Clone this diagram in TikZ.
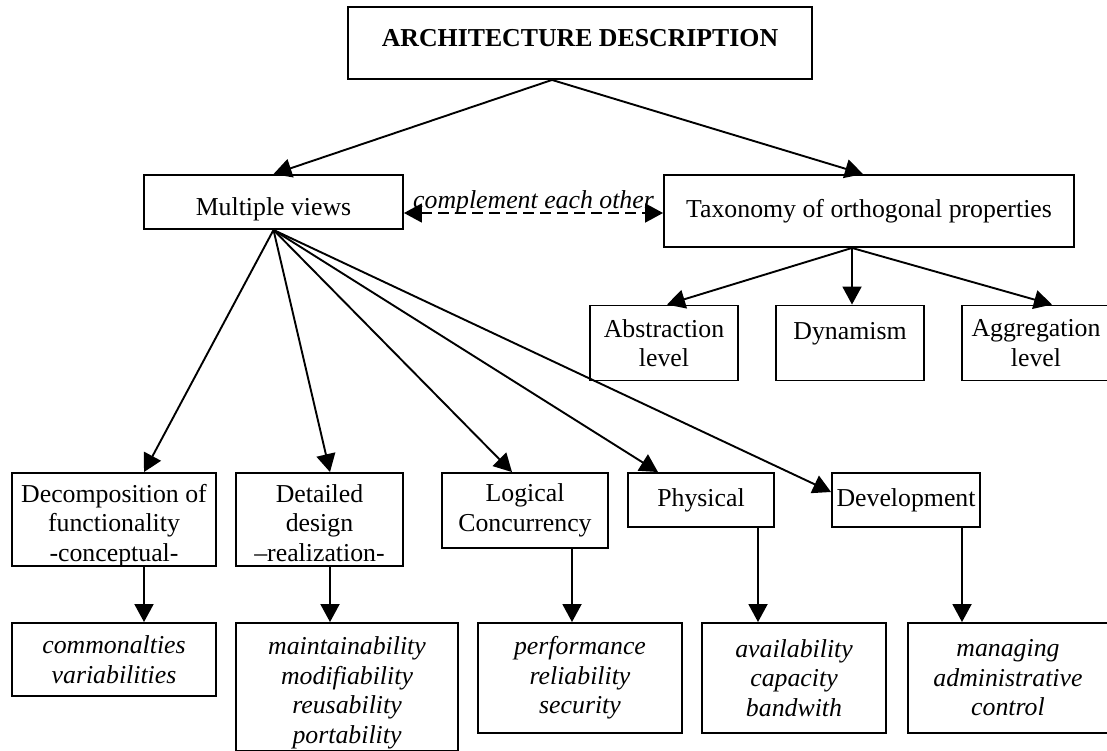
\documentclass[tikz,border=0pt]{standalone}
\usepackage{fontspec}
\setmainfont{Liberation Serif}
\usetikzlibrary{arrows.meta}
\begin{document}
\begin{tikzpicture}[x=1pt, y=-1pt,
    box/.style={draw, line width=1.9pt, align=center, inner sep=0pt, font=\fontsize{25.8}{29.5}\selectfont},
    qual/.style={box, font=\fontsize{25.8}{29.5}\selectfont\itshape},
    arr/.style={line width=1.9pt, -{Triangle[length=18pt,width=19pt]}},
    dasharr/.style={line width=1.9pt, dash pattern=on 11pt off 6pt, {Triangle[length=18pt,width=19pt]}-{Triangle[length=18pt,width=19pt]}}]
    \useasboundingbox (0,0) rectangle (1107,751);

    % Top Box
    \node[box, minimum width=464pt, minimum height=72pt, font=\fontsize{25.8}{29.5}\selectfont\bfseries, text height=17pt, text depth=9pt] (arch) at (580,43) {ARCHITECTURE DESCRIPTION};

    % Second Level
    \node[box, minimum width=259pt, minimum height=54pt, text height=34pt, text depth=6pt] (views) at (273.5,202) {Multiple views};
    \node[box, minimum width=410pt, minimum height=72pt] (taxo) at (869,211) {Taxonomy of orthogonal properties};

    % Properties
    \node[box, minimum width=148pt, minimum height=75pt] (abstr) at (664,343) {Abstraction\\level};
    \node[box, minimum width=148pt, minimum height=75pt, text height=18pt, text depth=26pt] (dyn) at (850,343) {Dynamism};
    \node[box, minimum width=148pt, minimum height=75pt] (aggr) at (1036,343) {Aggregation\\level};

    % Views
    \node[box, minimum width=204pt, minimum height=93pt, text height=88pt, text depth=5pt] (decomp) at (114,519.5) {Decomposition of\\functionality\\-conceptual-};
    \node[box, minimum width=167pt, minimum height=93pt, text height=88pt, text depth=5pt] (detail) at (319.5,519.5) {Detailed\\design\\--realization-};
    \node[box, minimum width=166pt, minimum height=75pt] (logic) at (525,510.5) {Logical\\Concurrency};
    \node[box, minimum width=146pt, minimum height=54pt] (phys) at (701,500) {Physical};
    \node[box, minimum width=148pt, minimum height=54pt] (devel) at (906,500) {Development};

    % Qualities
    \node[qual, minimum width=204pt, minimum height=73pt] (commons) at (114,659.5) {commonalties\\variabilities};
    \node[qual, minimum width=222pt, minimum height=128pt, text height=118pt] (maint) at (347,687) {maintainability\\modifiability\\reusability\\portability};
    \node[qual, minimum width=204pt, minimum height=110pt] (perf) at (580,678) {performance\\reliability\\security};
    \node[qual, minimum width=184pt, minimum height=110pt] (avail) at (794,678) {availability\\capacity\\bandwith};
    \node[qual, minimum width=200pt, minimum height=110pt] (manag) at (1008,678) {managing\\administrative\\control};

    % Arrows
    \draw[arr] ([xshift=-28pt]arch.south) -- (views.north);
    \draw[arr] ([xshift=-28pt]arch.south) -- ([xshift=-6pt]taxo.north);
    \draw[dasharr] ([yshift=-11pt]views.east) -- node[midway, anchor=base, yshift=4pt, font=\fontsize{25.8}{29.5}\selectfont\itshape] (compl) {complement each other} ([yshift=-2pt]taxo.west);

    \draw[arr] ([xshift=-17pt]taxo.south) -- ([xshift=3pt]abstr.north);
    \draw[arr] ([xshift=-17pt]taxo.south) -- ([xshift=2pt]dyn.north);
    \draw[arr] ([xshift=-17pt]taxo.south) -- ([xshift=16pt]aggr.north);

    \draw[arr] (views.south) -- ([xshift=30pt]decomp.north);
    \draw[arr] (views.south) -- ([xshift=10.5pt]detail.north);
    \draw[arr] (views.south) -- ([xshift=-13pt]logic.north);
    \draw[arr] (views.south) -- ([xshift=-43pt]phys.north);
    \draw[arr] (views.south) -- ([yshift=8pt]devel.west);

    \draw[arr] ([xshift=30pt]decomp.south) -- ([xshift=30pt]commons.north);
    \draw[arr] ([xshift=10.5pt]detail.south) -- ([xshift=-17pt]maint.north);
    \draw[arr] ([xshift=47pt]logic.south) -- ([xshift=-8pt]perf.north);
    \draw[arr] ([xshift=57pt]phys.south) -- ([xshift=-36pt]avail.north);
    \draw[arr] ([xshift=56pt]devel.south) -- ([xshift=-46pt]manag.north);
\end{tikzpicture}
\end{document}
